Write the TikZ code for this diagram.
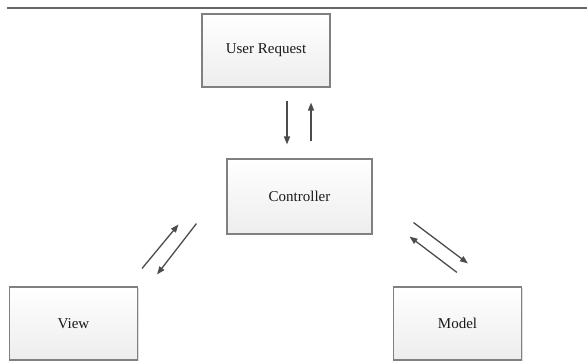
\documentclass[tikz,border=0pt]{standalone}
\usepackage{fontspec}
\setmainfont{Liberation Serif}
\usepackage{xcolor}
\usepackage{tikz}
\usetikzlibrary{positioning,calc,shadows,arrows.meta}

\begin{document}
\begin{tikzpicture}[x=1pt,y=1pt,
        block/.style={draw=black!50, line width=1.1pt, top color=white, bottom color=gray!14,
            drop shadow={shadow xshift=1pt, shadow yshift=-1pt, opacity=0.25},
            minimum width=128pt, minimum height=73pt, inner sep=0pt,
            font=\fontsize{15}{17}\selectfont, text=black!90},
        flow/.style={draw=black!70, line width=1.3pt, -{Triangle[length=8pt,width=6pt]}}]
        \useasboundingbox (0,0) rectangle (587,364);
        \draw[gray!80!black, line width=1.2pt] (7,356) -- (587,356);

        % boxes
        \node[block] (req) at (266,313.5) {User Request};
        \node[block, minimum width=145pt, minimum height=75pt] (ctrl) at (299.5,167.5) {Controller};
        \node[block] (view) at (73.5,40.5) {View};
        \node[block] (model) at (457.5,40.5) {Model};

        % request <-> controller
        \draw[flow] ([shift={(21,-13)}]req.south) -- ([shift={(-12.5,14)}]ctrl.north);
        \draw[flow] ([shift={(11.5,17)}]ctrl.north) -- ([shift={(45,-15)}]req.south);

        % controller <-> view
        \draw[flow] ([shift={(4,18)}]view.north east) -- ([shift={(-48,10)}]ctrl.south west);
        \draw[flow] ([shift={(-30,11)}]ctrl.south west) -- ([shift={(19,12)}]view.north east);

        % controller <-> model
        \draw[flow] ([shift={(41,12)}]ctrl.south east) -- ([shift={(75,23)}]model.north west);
        \draw[flow] ([shift={(64,14)}]model.north west) -- ([shift={(37,-2)}]ctrl.south east);
    \end{tikzpicture}
\end{document}
